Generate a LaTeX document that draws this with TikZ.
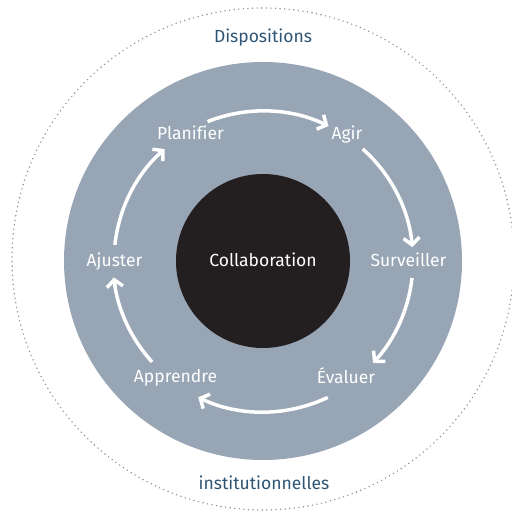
\documentclass[tikz,border=0pt]{standalone}
\usepackage{fontspec}
\setmainfont{Fira Sans}[Ligatures=NoCommon]
\usetikzlibrary{arrows.meta}
\definecolor{ringgray}{HTML}{97A5B4}
\definecolor{coredark}{HTML}{231F20}
\definecolor{titleblue}{HTML}{2F5575}
\definecolor{dotgray}{HTML}{8393A5}
\begin{document}
\begin{tikzpicture}[x=1pt,y=1pt,
  lbl/.style={text=white, font=\fontsize{17.5}{20}\selectfont, inner sep=0pt, anchor=base},
  ttl/.style={text=titleblue, font=\fontsize{17.5}{20}\selectfont, inner sep=0pt, anchor=base},
  cyc/.style={draw=white, line width=3.5pt, -{Straight Barb[length=7pt,width=16pt]}}]
\useasboundingbox (0,0) rectangle (512,512);
\coordinate (c) at (263,251);
\coordinate (oc) at (263,253);
\draw[dotgray, line width=1.6pt, line cap=round, dash pattern=on 0pt off 4.6pt] (oc) circle[radius=251];
\node[circle, fill=ringgray, minimum size=398pt, inner sep=0pt] (ring) at (c) {};
\node[circle, fill=coredark, minimum size=174pt, inner sep=0pt] (core) at (c) {};
\node[lbl] (collab) at (263,245) {Collaboration};
\node[ttl] (dispo) at (263,469) {Dispositions};
\node[ttl] (instit) at (264,22) {institutionnelles};
\node[lbl] (plan) at (190.5,372) {Planifier};
\node[lbl] (agir) at (347,372) {Agir};
\node[lbl] (surv) at (408.5,245) {Surveiller};
\node[lbl] (eval) at (346,128) {Évaluer};
\node[lbl] (appr) at (175.5,129) {Apprendre};
\node[lbl] (ajus) at (114.5,245) {Ajuster};
\path (c) ++(111.7:150) coordinate (s1);
\path (c) ++(48.3:150) coordinate (s2);
\path (c) ++(-6.5:150) coordinate (s3);
\path (c) ++(-64.6:151) coordinate (s4);
\path (c) ++(222.3:150) coordinate (s5);
\path (c) ++(173.8:149) coordinate (s6);
\draw[cyc] (s1) arc[start angle=111.7, end angle=64.1, radius=150];
\draw[cyc] (s2) arc[start angle=48.3, end angle=5.3, radius=150];
\draw[cyc] (s3) arc[start angle=-6.5, end angle=-42.8, radius=150];
\draw[cyc] (s4) arc[start angle=-64.6, end angle=-115.4, radius=151];
\draw[cyc] (s5) arc[start angle=222.3, end angle=186.3, radius=150];
\draw[cyc] (s6) arc[start angle=173.8, end angle=131.3, radius=149];
\end{tikzpicture}
\end{document}
